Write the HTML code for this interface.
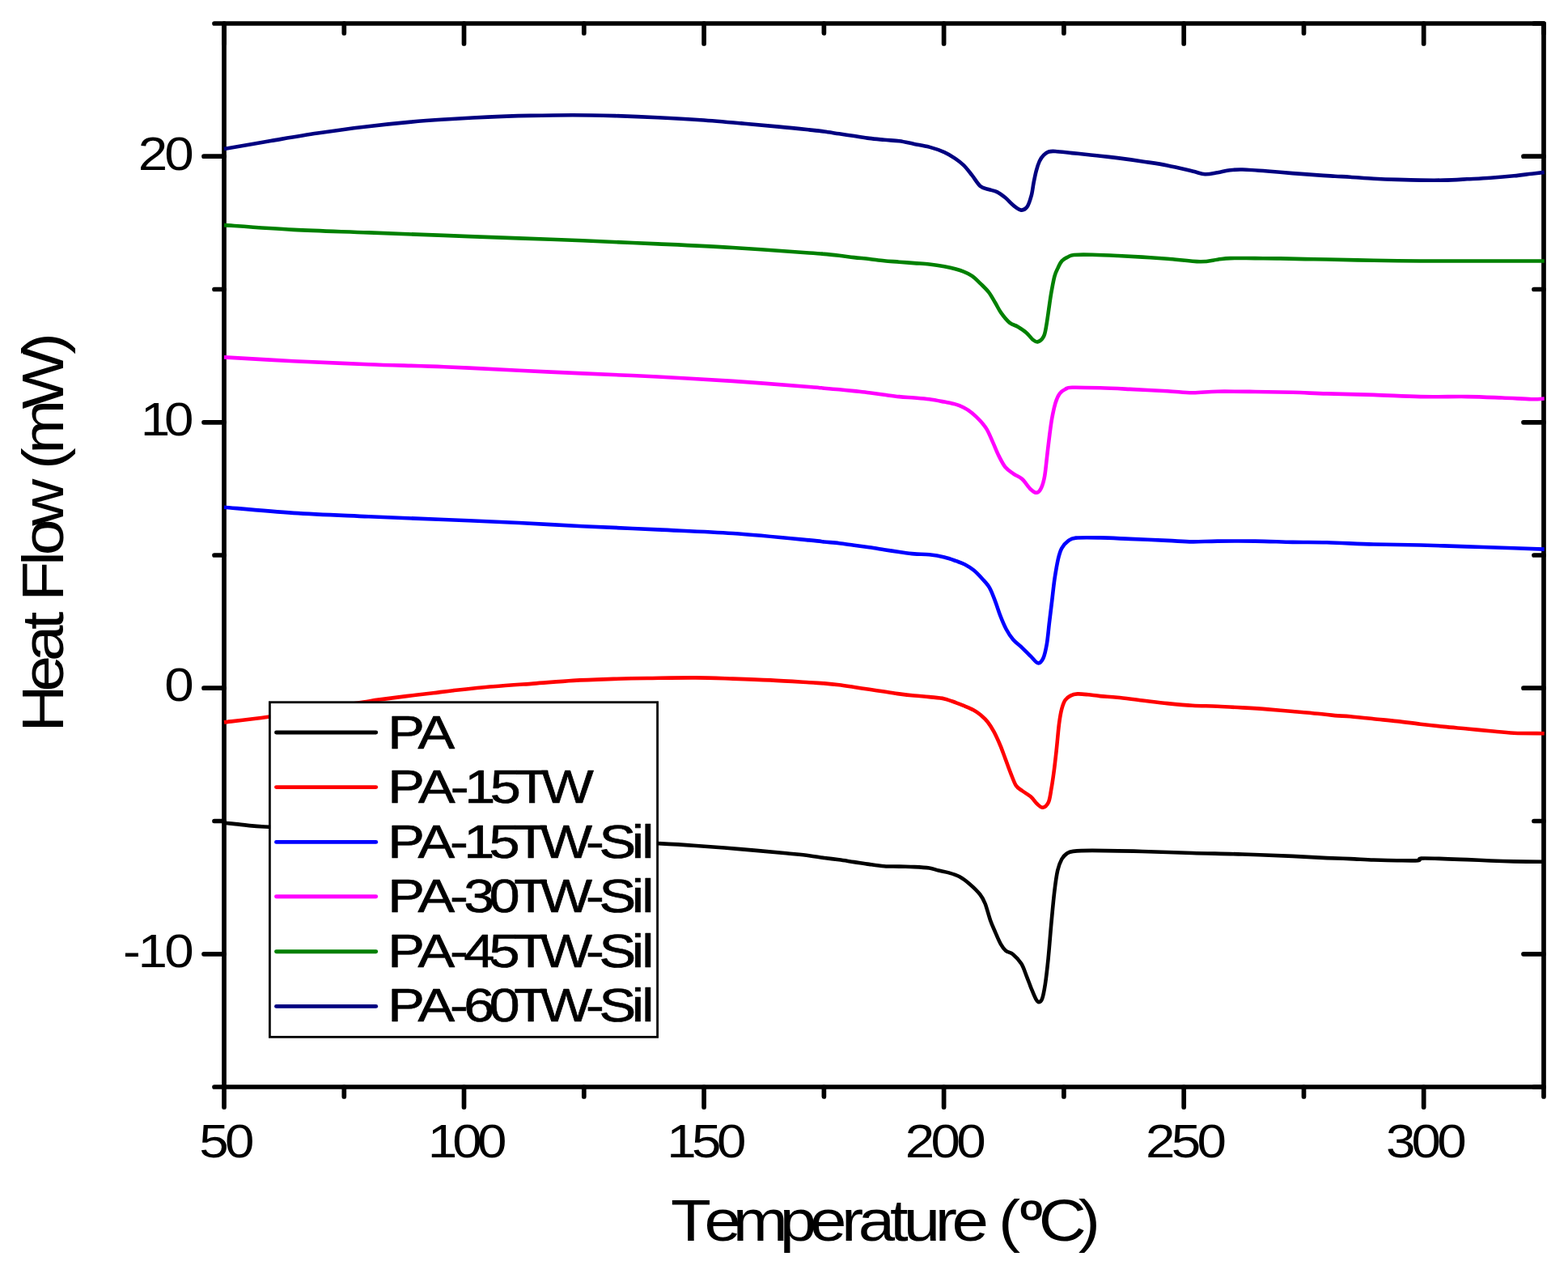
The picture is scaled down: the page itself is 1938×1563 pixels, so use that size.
<!DOCTYPE html>
<html><head><meta charset="utf-8"><title>Heat Flow vs Temperature</title>
<style>
html,body{margin:0;padding:0;background:#fff;overflow:hidden;}
svg{display:block;}
text{font-family:"Liberation Sans",sans-serif;fill:#000;}
</style></head><body>
<svg width="1938" height="1563" viewBox="0 0 1938 1563">
<rect width="1938" height="1563" fill="#fff"/>
<rect x="277.0" y="29.0" width="1631.0" height="1314.0" fill="none" stroke="#000" stroke-width="5.7" stroke-linejoin="round"/>
<path d="M277.0,1343.0V1368.0M277.0,29.0V54.0M425.3,1343.0V1355.0M425.3,29.0V41.0M573.5,1343.0V1368.0M573.5,29.0V54.0M721.8,1343.0V1355.0M721.8,29.0V41.0M870.1,1343.0V1368.0M870.1,29.0V54.0M1018.4,1343.0V1355.0M1018.4,29.0V41.0M1166.6,1343.0V1368.0M1166.6,29.0V54.0M1314.9,1343.0V1355.0M1314.9,29.0V41.0M1463.2,1343.0V1368.0M1463.2,29.0V54.0M1611.5,1343.0V1355.0M1611.5,29.0V41.0M1759.7,1343.0V1368.0M1759.7,29.0V54.0M1908.0,1343.0V1355.0M1908.0,29.0V41.0M277.0,1343.0H265.0M1908.0,1343.0H1896.0M277.0,1178.8H252.0M1908.0,1178.8H1883.0M277.0,1014.5H265.0M1908.0,1014.5H1896.0M277.0,850.2H252.0M1908.0,850.2H1883.0M277.0,686.0H265.0M1908.0,686.0H1896.0M277.0,521.8H252.0M1908.0,521.8H1883.0M277.0,357.5H265.0M1908.0,357.5H1896.0M277.0,193.2H252.0M1908.0,193.2H1883.0M277.0,29.0H265.0M1908.0,29.0H1896.0" stroke="#000" stroke-width="5.7" stroke-linecap="round" fill="none"/>
<path d="M277.0,1016.7 C279.3,1016.9 286.1,1017.6 291.0,1018.1 C295.9,1018.6 300.4,1019.3 306.4,1019.9 C312.4,1020.5 315.6,1020.9 327.1,1021.5 C338.7,1022.1 359.5,1022.9 375.7,1023.6 C391.9,1024.3 408.2,1024.9 424.4,1025.6 C440.6,1026.3 456.8,1027.0 473.0,1027.7 C489.2,1028.4 505.4,1029.0 521.6,1029.7 C537.8,1030.4 554.0,1031.1 570.2,1031.8 C586.4,1032.5 602.7,1033.2 618.9,1033.9 C635.1,1034.6 651.3,1035.2 667.5,1035.9 C683.7,1036.6 699.9,1037.3 716.1,1038.0 C732.3,1038.7 748.6,1039.3 764.8,1040.0 C781.0,1040.7 798.0,1041.3 813.4,1042.1 C828.8,1042.9 840.4,1043.5 857.3,1044.7 C874.1,1045.9 895.4,1047.5 914.5,1049.1 C933.6,1050.7 957.5,1052.9 971.8,1054.3 C986.0,1055.7 992.2,1056.2 1000.0,1057.2 C1007.8,1058.2 1012.4,1059.2 1018.6,1060.0 C1024.8,1060.8 1031.0,1061.5 1037.2,1062.3 C1043.4,1063.1 1049.5,1064.2 1055.7,1065.1 C1061.9,1066.0 1068.1,1067.1 1074.3,1067.9 C1080.5,1068.8 1086.7,1069.8 1092.9,1070.2 C1099.1,1070.7 1105.3,1070.4 1111.5,1070.6 C1117.7,1070.8 1123.8,1070.8 1130.0,1071.1 C1136.2,1071.4 1143.6,1071.8 1148.6,1072.5 C1153.6,1073.2 1156.0,1074.6 1160.0,1075.6 C1164.0,1076.6 1168.5,1077.2 1172.8,1078.4 C1177.1,1079.6 1181.3,1080.7 1185.6,1083.0 C1189.9,1085.3 1194.1,1088.5 1198.4,1092.2 C1202.7,1095.9 1208.0,1101.0 1211.2,1105.0 C1214.4,1109.0 1215.5,1111.2 1217.6,1116.5 C1219.7,1121.8 1221.9,1131.0 1224.0,1137.0 C1226.1,1143.0 1228.3,1147.5 1230.4,1152.4 C1232.5,1157.3 1234.7,1162.7 1236.8,1166.4 C1238.9,1170.1 1240.7,1172.7 1243.2,1174.8 C1245.8,1176.9 1248.9,1176.5 1252.1,1179.2 C1255.3,1181.9 1259.6,1186.3 1262.4,1190.8 C1265.2,1195.3 1266.7,1200.8 1268.8,1206.1 C1270.9,1211.4 1273.3,1218.0 1275.2,1222.7 C1277.1,1227.4 1278.8,1231.7 1280.3,1234.3 C1281.8,1236.9 1282.8,1238.1 1284.1,1238.1 C1285.4,1238.1 1286.7,1237.9 1288.0,1234.3 C1289.3,1230.7 1290.5,1224.6 1291.8,1216.3 C1293.1,1208.0 1294.3,1197.2 1295.6,1184.4 C1296.9,1171.6 1298.2,1153.5 1299.5,1139.6 C1300.8,1125.7 1302.0,1111.9 1303.3,1101.2 C1304.6,1090.5 1305.7,1082.2 1307.2,1075.6 C1308.7,1069.0 1310.4,1065.0 1312.3,1061.5 C1314.2,1058.0 1316.4,1056.1 1318.7,1054.5 C1321.0,1052.9 1321.1,1052.5 1326.3,1051.9 C1331.5,1051.3 1335.7,1050.9 1350.0,1050.9 C1364.3,1050.9 1391.3,1051.5 1411.9,1052.0 C1432.5,1052.5 1453.2,1053.4 1473.8,1054.0 C1494.4,1054.6 1515.1,1054.8 1535.8,1055.5 C1556.5,1056.2 1580.3,1057.1 1597.7,1057.9 C1615.1,1058.7 1628.1,1059.6 1640.0,1060.1 C1651.9,1060.6 1659.3,1060.7 1668.9,1061.1 C1678.5,1061.5 1688.2,1062.2 1697.8,1062.5 C1707.4,1062.8 1717.5,1063.1 1726.7,1063.2 C1735.9,1063.3 1747.7,1063.6 1752.7,1063.2 C1757.7,1062.8 1751.2,1060.9 1756.5,1060.6 C1761.8,1060.2 1775.0,1060.8 1784.5,1061.1 C1794.0,1061.3 1803.8,1061.7 1813.4,1062.1 C1823.0,1062.5 1832.7,1063.1 1842.3,1063.5 C1851.9,1063.9 1860.2,1064.2 1871.2,1064.4 C1882.2,1064.6 1901.9,1064.7 1908.0,1064.7" fill="none" stroke="#000000" stroke-width="4.6" stroke-linejoin="round"/>
<path d="M277.0,892.4 C286.1,891.3 311.0,888.6 331.5,885.7 C352.0,882.8 380.4,878.1 400.0,875.1 C419.6,872.1 437.4,869.3 449.0,867.5 C460.6,865.7 460.6,865.6 469.5,864.4 C478.4,863.2 491.6,861.5 502.6,860.1 C513.6,858.8 526.0,857.4 535.6,856.3 C545.2,855.1 547.7,854.5 560.0,853.2 C572.3,851.9 593.0,849.7 609.5,848.3 C626.0,846.9 642.6,845.8 659.1,844.6 C675.6,843.4 692.1,841.9 708.6,840.9 C725.1,839.9 742.9,839.4 758.1,838.9 C773.3,838.4 783.1,838.2 800.0,838.0 C816.9,837.8 841.7,837.3 859.3,837.4 C876.9,837.5 890.2,838.1 905.7,838.6 C921.2,839.1 936.5,839.6 952.2,840.4 C967.9,841.2 988.9,842.6 1000.0,843.3 C1011.1,844.0 1012.4,843.9 1018.6,844.4 C1024.8,844.9 1031.0,845.5 1037.2,846.3 C1043.4,847.1 1049.5,848.1 1055.7,849.0 C1061.9,849.9 1068.1,850.9 1074.3,851.8 C1080.5,852.7 1086.7,853.7 1092.9,854.6 C1099.1,855.5 1105.3,856.6 1111.5,857.4 C1117.7,858.2 1123.8,858.9 1130.0,859.5 C1136.2,860.1 1142.4,860.5 1148.6,861.1 C1154.8,861.8 1161.7,862.2 1167.2,863.4 C1172.7,864.6 1177.6,866.8 1181.8,868.3 C1186.0,869.8 1189.0,871.1 1192.6,872.6 C1196.2,874.1 1200.2,875.7 1203.5,877.5 C1206.8,879.3 1209.3,881.0 1212.2,883.5 C1215.1,886.0 1218.2,888.8 1220.9,892.2 C1223.6,895.7 1226.0,899.5 1228.5,904.2 C1231.0,908.9 1233.7,914.9 1236.1,920.5 C1238.5,926.1 1240.5,932.1 1242.7,937.9 C1244.9,943.7 1247.0,949.9 1249.2,955.3 C1251.4,960.7 1253.4,966.9 1255.7,970.5 C1258.0,974.1 1260.2,974.6 1263.3,977.0 C1266.4,979.4 1271.1,981.9 1274.2,984.6 C1277.3,987.3 1279.3,991.1 1281.8,993.3 C1284.2,995.5 1286.6,998.1 1288.9,997.7 C1291.2,997.4 1294.2,994.8 1295.9,991.2 C1297.6,987.6 1298.1,982.1 1299.2,975.9 C1300.3,969.7 1301.4,962.4 1302.5,954.2 C1303.6,946.1 1304.6,937.0 1305.7,927.0 C1306.8,917.0 1307.9,902.9 1309.0,894.4 C1310.1,885.9 1311.0,880.8 1312.3,875.9 C1313.6,871.0 1314.8,867.7 1316.6,865.0 C1318.4,862.3 1320.6,860.9 1323.1,859.6 C1325.6,858.3 1328.2,857.6 1331.8,857.4 C1335.4,857.2 1340.2,857.8 1344.9,858.3 C1349.6,858.8 1354.0,859.5 1360.0,860.1 C1366.0,860.7 1372.3,860.8 1381.0,861.7 C1389.7,862.6 1401.6,864.3 1411.9,865.5 C1422.2,866.7 1432.6,868.1 1442.9,869.1 C1453.2,870.1 1463.5,871.1 1473.8,871.7 C1484.1,872.3 1494.5,872.3 1504.8,872.8 C1515.1,873.2 1525.5,873.8 1535.8,874.4 C1546.1,875.0 1556.4,875.6 1566.7,876.4 C1577.0,877.2 1587.4,878.1 1597.7,879.0 C1608.0,879.9 1619.9,880.9 1628.6,881.8 C1637.3,882.6 1643.3,883.5 1650.0,884.1 C1656.7,884.7 1660.9,884.6 1668.9,885.3 C1676.9,886.0 1688.2,887.2 1697.8,888.2 C1707.4,889.2 1717.1,890.0 1726.7,891.1 C1736.3,892.2 1746.0,893.6 1755.6,894.7 C1765.2,895.8 1774.9,896.9 1784.5,897.9 C1794.1,898.9 1803.8,899.6 1813.4,900.5 C1823.0,901.4 1832.7,902.4 1842.3,903.3 C1851.9,904.2 1860.1,905.3 1871.2,905.8 C1882.3,906.3 1902.5,906.1 1908.7,906.2" fill="none" stroke="#FF0000" stroke-width="4.6" stroke-linejoin="round"/>
<path d="M277.0,626.7 C291.3,627.9 333.1,632.0 362.9,633.9 C392.7,635.8 424.8,636.9 455.7,638.3 C486.6,639.6 517.6,640.7 548.6,642.0 C579.6,643.3 612.9,644.6 641.5,646.0 C670.1,647.4 691.4,648.8 720.0,650.2 C748.6,651.6 781.9,652.9 812.9,654.4 C843.9,655.9 874.5,656.8 905.7,659.0 C936.9,661.2 981.2,665.6 1000.0,667.4 C1018.8,669.1 1012.4,668.9 1018.6,669.5 C1024.8,670.1 1031.0,670.5 1037.2,671.2 C1043.4,671.9 1049.5,672.9 1055.7,673.7 C1061.9,674.6 1068.1,675.4 1074.3,676.3 C1080.5,677.2 1086.7,678.3 1092.9,679.3 C1099.1,680.2 1105.3,681.1 1111.5,682.0 C1117.7,682.9 1123.8,683.9 1130.0,684.4 C1136.2,684.9 1142.4,684.6 1148.6,685.3 C1154.8,686.0 1161.7,687.2 1167.2,688.5 C1172.7,689.8 1177.6,691.7 1181.8,693.2 C1186.0,694.7 1189.0,695.6 1192.6,697.5 C1196.2,699.4 1199.9,701.6 1203.5,704.6 C1207.1,707.6 1211.1,711.9 1214.4,715.5 C1217.7,719.1 1220.6,721.9 1223.1,726.3 C1225.6,730.6 1227.4,736.0 1229.6,741.6 C1231.8,747.2 1233.8,754.1 1236.1,760.1 C1238.4,766.1 1241.0,772.4 1243.7,777.5 C1246.4,782.6 1249.1,786.7 1252.4,790.5 C1255.7,794.3 1259.7,796.8 1263.3,800.3 C1266.9,803.8 1270.9,808.0 1274.2,811.2 C1277.5,814.4 1280.4,818.9 1282.9,819.3 C1285.4,819.6 1287.6,817.2 1289.4,813.3 C1291.2,809.4 1292.5,803.3 1293.8,795.9 C1295.1,788.5 1295.9,777.8 1297.0,768.8 C1298.1,759.8 1299.2,750.7 1300.3,741.6 C1301.4,732.5 1302.3,722.9 1303.6,714.4 C1304.9,705.9 1306.5,696.7 1307.9,690.5 C1309.4,684.3 1310.3,681.0 1312.3,677.4 C1314.3,673.8 1317.0,670.8 1319.9,668.7 C1322.8,666.6 1323.0,665.3 1329.7,664.6 C1336.4,663.9 1348.9,664.2 1360.0,664.4 C1371.1,664.6 1382.6,665.3 1396.4,665.9 C1410.2,666.5 1430.0,667.3 1442.9,667.9 C1455.8,668.5 1463.5,669.3 1473.8,669.4 C1484.1,669.5 1491.9,668.7 1504.8,668.6 C1517.7,668.5 1535.7,668.4 1551.2,668.6 C1566.7,668.8 1582.9,669.6 1597.7,669.9 C1612.5,670.2 1623.3,669.9 1640.0,670.3 C1656.7,670.7 1678.5,672.0 1697.8,672.5 C1717.1,673.0 1736.3,673.0 1755.6,673.5 C1774.9,674.0 1794.1,674.8 1813.4,675.4 C1832.7,676.0 1855.3,676.8 1871.2,677.3 C1887.1,677.8 1902.5,678.4 1908.7,678.6" fill="none" stroke="#0000FF" stroke-width="4.6" stroke-linejoin="round"/>
<path d="M277.0,441.4 C291.3,442.2 333.1,444.7 362.9,446.2 C392.7,447.7 424.8,449.0 455.7,450.2 C486.6,451.4 517.6,451.9 548.6,453.2 C579.6,454.5 612.9,456.4 641.5,457.8 C670.1,459.2 691.4,460.1 720.0,461.4 C748.6,462.7 781.9,463.9 812.9,465.5 C843.9,467.1 874.5,468.8 905.7,470.9 C936.9,473.0 981.2,476.5 1000.0,478.0 C1018.8,479.5 1012.4,479.1 1018.6,479.7 C1024.8,480.2 1031.0,480.7 1037.2,481.3 C1043.4,481.9 1049.5,482.5 1055.7,483.1 C1061.9,483.8 1068.1,484.4 1074.3,485.2 C1080.5,486.0 1086.7,487.0 1092.9,487.8 C1099.1,488.6 1105.3,489.5 1111.5,490.1 C1117.7,490.7 1123.8,491.0 1130.0,491.5 C1136.2,492.0 1142.4,492.4 1148.6,493.3 C1154.8,494.2 1161.9,495.6 1167.2,496.6 C1172.5,497.6 1176.6,498.2 1180.6,499.4 C1184.6,500.5 1187.5,501.7 1191.0,503.5 C1194.5,505.3 1197.9,507.4 1201.3,510.2 C1204.7,513.0 1208.5,516.6 1211.6,520.1 C1214.7,523.6 1217.3,526.5 1219.9,530.9 C1222.5,535.3 1224.7,541.1 1227.1,546.4 C1229.5,551.7 1231.7,557.8 1234.3,562.9 C1236.9,568.0 1239.5,573.5 1242.6,577.3 C1245.7,581.1 1249.5,583.2 1252.9,585.6 C1256.3,588.0 1259.8,588.7 1263.2,591.8 C1266.6,594.9 1270.5,601.4 1273.5,604.2 C1276.5,607.0 1279.1,609.0 1281.3,608.8 C1283.5,608.6 1285.3,606.5 1286.9,603.1 C1288.5,599.8 1289.9,595.4 1291.1,588.7 C1292.3,582.0 1293.2,571.5 1294.2,562.9 C1295.2,554.3 1296.3,544.9 1297.3,537.1 C1298.3,529.4 1299.1,522.9 1300.3,516.4 C1301.5,509.9 1303.0,502.9 1304.5,497.9 C1306.0,492.9 1307.5,489.4 1309.6,486.5 C1311.7,483.6 1314.3,482.1 1316.9,480.8 C1319.5,479.5 1317.9,479.1 1325.1,478.8 C1332.3,478.6 1348.1,479.0 1360.0,479.3 C1371.9,479.6 1382.6,480.2 1396.4,480.9 C1410.2,481.5 1430.0,482.5 1442.9,483.2 C1455.8,483.9 1463.5,485.1 1473.8,485.2 C1484.1,485.3 1491.9,483.9 1504.8,483.7 C1517.7,483.5 1535.7,483.8 1551.2,484.0 C1566.7,484.2 1582.9,484.4 1597.7,484.8 C1612.5,485.2 1623.3,485.9 1640.0,486.4 C1656.7,486.9 1678.5,487.3 1697.8,487.9 C1717.1,488.5 1736.3,489.7 1755.6,490.1 C1774.9,490.5 1796.6,489.9 1813.4,490.1 C1830.2,490.3 1843.5,491.0 1856.7,491.5 C1870.0,492.0 1884.2,493.0 1892.9,493.2 C1901.6,493.4 1906.1,492.6 1908.7,492.5" fill="none" stroke="#FF00FF" stroke-width="4.6" stroke-linejoin="round"/>
<path d="M277.0,278.1 C291.3,279.1 333.1,282.3 362.9,283.9 C392.7,285.4 424.8,286.2 455.7,287.4 C486.6,288.6 517.6,289.7 548.6,290.9 C579.6,292.1 612.9,293.3 641.5,294.4 C670.1,295.5 691.4,296.1 720.0,297.3 C748.6,298.5 781.9,299.9 812.9,301.4 C843.9,302.8 874.5,304.1 905.7,306.0 C936.9,307.9 981.2,311.2 1000.0,312.5 C1018.8,313.8 1012.4,313.3 1018.6,313.9 C1024.8,314.4 1031.0,315.1 1037.2,315.8 C1043.4,316.5 1049.5,317.4 1055.7,318.1 C1061.9,318.8 1068.1,319.3 1074.3,320.0 C1080.5,320.7 1086.7,321.7 1092.9,322.3 C1099.1,322.9 1105.3,323.2 1111.5,323.7 C1117.7,324.2 1123.8,324.6 1130.0,325.1 C1136.2,325.6 1142.4,325.8 1148.6,326.5 C1154.8,327.2 1161.9,328.3 1167.2,329.3 C1172.5,330.3 1176.6,331.2 1180.6,332.3 C1184.6,333.4 1187.5,334.2 1191.0,335.6 C1194.5,337.0 1197.9,338.4 1201.3,340.8 C1204.7,343.2 1208.2,346.8 1211.6,350.1 C1215.0,353.5 1218.8,356.9 1221.9,360.9 C1225.0,364.9 1227.6,370.0 1230.2,374.3 C1232.8,378.6 1234.5,382.6 1237.4,386.7 C1240.3,390.8 1244.3,395.8 1247.7,398.6 C1251.1,401.4 1254.5,401.6 1258.0,403.7 C1261.5,405.8 1265.3,408.2 1268.4,410.9 C1271.5,413.6 1274.2,417.8 1276.6,419.7 C1279.0,421.6 1280.6,423.0 1282.8,422.3 C1285.0,421.6 1288.3,418.8 1290.0,415.6 C1291.7,412.4 1292.1,408.7 1293.1,403.2 C1294.1,397.7 1295.2,389.5 1296.2,382.6 C1297.2,375.7 1298.1,368.8 1299.3,361.9 C1300.5,355.0 1302.0,346.4 1303.4,341.3 C1304.8,336.2 1306.0,334.2 1307.6,331.0 C1309.1,327.8 1310.6,324.4 1312.7,322.2 C1314.8,319.9 1317.6,318.7 1320.0,317.5 C1322.4,316.3 1322.2,315.4 1327.2,315.0 C1332.2,314.6 1341.0,314.6 1350.0,314.8 C1359.0,315.0 1370.7,315.5 1381.0,316.0 C1391.3,316.5 1401.6,317.0 1411.9,317.6 C1422.2,318.2 1431.0,318.8 1442.9,319.7 C1454.8,320.6 1472.8,323.1 1483.1,323.3 C1493.4,323.5 1498.6,321.4 1504.8,320.7 C1511.0,320.0 1512.6,319.4 1520.3,319.1 C1528.0,318.8 1540.9,319.1 1551.2,319.1 C1561.5,319.2 1571.9,319.2 1582.2,319.4 C1592.5,319.6 1603.6,319.9 1613.2,320.1 C1622.8,320.3 1625.9,320.2 1640.0,320.5 C1654.1,320.8 1678.5,321.5 1697.8,321.8 C1717.1,322.1 1736.3,322.4 1755.6,322.5 C1774.9,322.6 1787.9,322.5 1813.4,322.5 C1838.9,322.5 1892.8,322.5 1908.7,322.5" fill="none" stroke="#008000" stroke-width="4.6" stroke-linejoin="round"/>
<path d="M277.0,184.1 C286.6,182.4 315.5,177.2 334.8,174.0 C354.1,170.8 373.3,167.5 392.6,164.6 C411.9,161.7 431.1,159.0 450.4,156.7 C469.7,154.4 491.6,152.1 508.2,150.6 C524.8,149.1 534.3,148.5 550.0,147.5 C565.7,146.5 585.1,145.4 602.6,144.6 C620.1,143.8 637.8,143.3 655.3,142.9 C672.8,142.5 690.4,142.2 707.9,142.2 C725.4,142.2 743.0,142.6 760.5,143.1 C778.0,143.6 795.7,144.3 813.2,145.2 C830.8,146.1 848.6,147.1 865.8,148.3 C883.0,149.5 900.2,151.0 916.4,152.4 C932.6,153.8 949.0,155.3 962.9,156.6 C976.8,157.9 990.7,159.4 1000.0,160.4 C1009.3,161.4 1012.4,161.7 1018.6,162.5 C1024.8,163.3 1031.0,164.4 1037.2,165.3 C1043.4,166.2 1049.5,167.2 1055.7,168.1 C1061.9,169.0 1068.1,170.1 1074.3,170.9 C1080.5,171.7 1086.7,172.2 1092.9,172.8 C1099.1,173.4 1105.3,173.5 1111.5,174.3 C1117.7,175.2 1123.8,176.7 1130.0,177.9 C1136.2,179.1 1142.4,179.9 1148.6,181.6 C1154.8,183.3 1161.9,185.7 1167.2,188.1 C1172.5,190.5 1176.6,193.1 1180.6,195.8 C1184.6,198.5 1187.5,200.7 1191.0,204.1 C1194.5,207.5 1197.9,212.1 1201.3,216.4 C1204.7,220.7 1208.2,227.0 1211.6,229.9 C1215.0,232.8 1218.5,232.8 1221.9,234.0 C1225.3,235.2 1228.8,235.4 1232.2,237.1 C1235.7,238.8 1239.1,241.5 1242.6,244.3 C1246.0,247.1 1249.6,251.5 1252.9,254.1 C1256.2,256.6 1259.5,259.3 1262.2,259.6 C1265.0,259.9 1267.3,258.6 1269.4,255.7 C1271.5,252.8 1273.2,247.2 1274.6,242.2 C1276.0,237.2 1276.6,230.8 1277.6,225.7 C1278.6,220.5 1279.5,215.8 1280.7,211.3 C1281.9,206.8 1283.4,202.2 1284.9,198.9 C1286.5,195.6 1288.1,193.6 1290.0,191.7 C1291.9,189.8 1293.8,188.3 1296.2,187.5 C1298.6,186.7 1299.7,186.7 1304.5,187.0 C1309.3,187.3 1318.2,188.4 1325.1,189.1 C1332.0,189.8 1340.0,190.6 1345.8,191.2 C1351.6,191.8 1354.1,192.0 1360.0,192.7 C1365.9,193.3 1372.3,194.0 1381.0,195.1 C1389.7,196.2 1401.6,197.8 1411.9,199.4 C1422.2,201.0 1432.6,202.4 1442.9,204.4 C1453.2,206.4 1466.1,209.7 1473.8,211.5 C1481.5,213.3 1484.1,214.9 1489.3,215.2 C1494.5,215.5 1499.6,214.1 1504.8,213.3 C1510.0,212.5 1515.1,210.8 1520.3,210.2 C1525.5,209.6 1528.1,209.3 1535.8,209.5 C1543.5,209.7 1556.4,210.7 1566.7,211.5 C1577.0,212.3 1587.4,213.3 1597.7,214.1 C1608.0,214.9 1619.9,215.8 1628.6,216.4 C1637.3,217.0 1643.3,217.3 1650.0,217.7 C1656.7,218.1 1660.9,218.2 1668.9,218.7 C1676.9,219.2 1688.2,220.2 1697.8,220.7 C1707.4,221.2 1717.1,221.6 1726.7,221.9 C1736.3,222.2 1746.0,222.5 1755.6,222.6 C1765.2,222.7 1774.9,222.8 1784.5,222.6 C1794.1,222.4 1803.8,221.8 1813.4,221.3 C1823.0,220.8 1832.7,220.4 1842.3,219.7 C1851.9,219.0 1862.8,218.1 1871.2,217.3 C1879.6,216.5 1886.7,215.4 1892.9,214.7 C1899.2,214.0 1906.1,213.2 1908.7,212.9" fill="none" stroke="#000080" stroke-width="4.6" stroke-linejoin="round"/>
<rect x="333.4" y="867.7" width="479.2" height="413.6" fill="#fff" stroke="#000" stroke-width="2.8"/>
<line x1="341.5" y1="905.0" x2="464.7" y2="905.0" stroke="#000000" stroke-width="4.9" stroke-linecap="round"/>
<text transform="scale(1.1800,1.0000)" x="406.17 437.78" y="924.90" font-size="58.00" stroke="#000" stroke-width="0.68" stroke-linejoin="round">PA</text>
<line x1="341.5" y1="972.6" x2="464.7" y2="972.6" stroke="#FF0000" stroke-width="4.9" stroke-linecap="round"/>
<text transform="scale(1.1800,1.0000)" x="406.17 438.14 471.78 486.62 513.27 539.64 567.23" y="992.40" font-size="58.00" stroke="#000" stroke-width="0.68" stroke-linejoin="round">PA-15TW</text>
<line x1="341.5" y1="1040.4" x2="464.7" y2="1040.4" stroke="#0000FF" stroke-width="4.9" stroke-linecap="round"/>
<text transform="scale(1.1800,1.0000)" x="406.17 437.83 471.24 485.86 512.26 538.36 565.59 613.60 627.64 661.64 672.18" y="1059.90" font-size="58.00" stroke="#000" stroke-width="0.68" stroke-linejoin="round">PA-15TW-Sil</text>
<line x1="341.5" y1="1107.8" x2="464.7" y2="1107.8" stroke="#FF00FF" stroke-width="4.9" stroke-linecap="round"/>
<text transform="scale(1.1800,1.0000)" x="406.17 437.83 471.24 485.86 512.26 538.36 565.59 613.60 627.64 661.64 672.18" y="1127.40" font-size="58.00" stroke="#000" stroke-width="0.68" stroke-linejoin="round">PA-30TW-Sil</text>
<line x1="341.5" y1="1175.8" x2="464.7" y2="1175.8" stroke="#008000" stroke-width="4.9" stroke-linecap="round"/>
<text transform="scale(1.1800,1.0000)" x="406.17 437.83 471.24 485.86 512.26 538.36 565.59 613.60 627.64 661.64 672.18" y="1194.90" font-size="58.00" stroke="#000" stroke-width="0.68" stroke-linejoin="round">PA-45TW-Sil</text>
<line x1="341.5" y1="1243.4" x2="464.7" y2="1243.4" stroke="#000080" stroke-width="4.9" stroke-linecap="round"/>
<text transform="scale(1.1800,1.0000)" x="406.17 437.83 471.24 485.86 512.26 538.36 565.59 613.60 627.64 661.64 672.18" y="1262.40" font-size="58.00" stroke="#000" stroke-width="0.68" stroke-linejoin="round">PA-60TW-Sil</text>
<text transform="scale(1.1600,1.0000)" x="212.39 239.75" y="1430.45" font-size="56.50">50</text>
<text transform="scale(1.1600,1.0000)" x="455.78 482.16 508.54" y="1430.45" font-size="56.50">100</text>
<text transform="scale(1.1600,1.0000)" x="710.52 737.12 763.72" y="1430.45" font-size="56.50">150</text>
<text transform="scale(1.1600,1.0000)" x="964.49 991.82 1019.15" y="1430.45" font-size="56.50">200</text>
<text transform="scale(1.1600,1.0000)" x="1220.61 1247.98 1275.35" y="1430.45" font-size="56.50">250</text>
<text transform="scale(1.1600,1.0000)" x="1476.64 1503.97 1531.30" y="1430.45" font-size="56.50">300</text>
<text transform="scale(1.1600,1.0000)" x="147.24 175.18" y="210.35" font-size="56.50">20</text>
<text transform="scale(1.1600,1.0000)" x="149.75 175.01" y="538.25" font-size="56.50">10</text>
<text transform="scale(1.1600,1.0000)" x="175.18" y="866.45" font-size="56.50">0</text>
<text transform="scale(1.1600,1.0000)" x="130.94 147.09 175.18" y="1195.45" font-size="56.50">-10</text>
<text transform="scale(1.1400,1.0000)" x="727.16 763.50 794.50 845.33 878.10 912.28 930.48 965.01 979.61 1013.79 1031.99 1066.52 1082.54" y="1533.10" font-size="71.60">Temperature (</text>
<text transform="scale(1.1400,1.0000)" x="1126.01 1169.19" y="1533.10" font-size="71.60">C)</text>
<text transform="scale(1.1900,1.0000)" x="1059.30" y="1507.00" font-size="43.00" stroke="#000" stroke-width="1.51" stroke-linejoin="round">o</text>
<text transform="translate(77.90,898.00) rotate(-90) scale(1.1250,1.0000)" x="-5.87 38.37 71.70 106.65 123.30 138.00 176.87 188.24 220.59 266.46 282.79 299.82 349.09 409.22" y="0.00" font-size="71.60">Heat Flow (mW)</text>
</svg>
</body></html>
